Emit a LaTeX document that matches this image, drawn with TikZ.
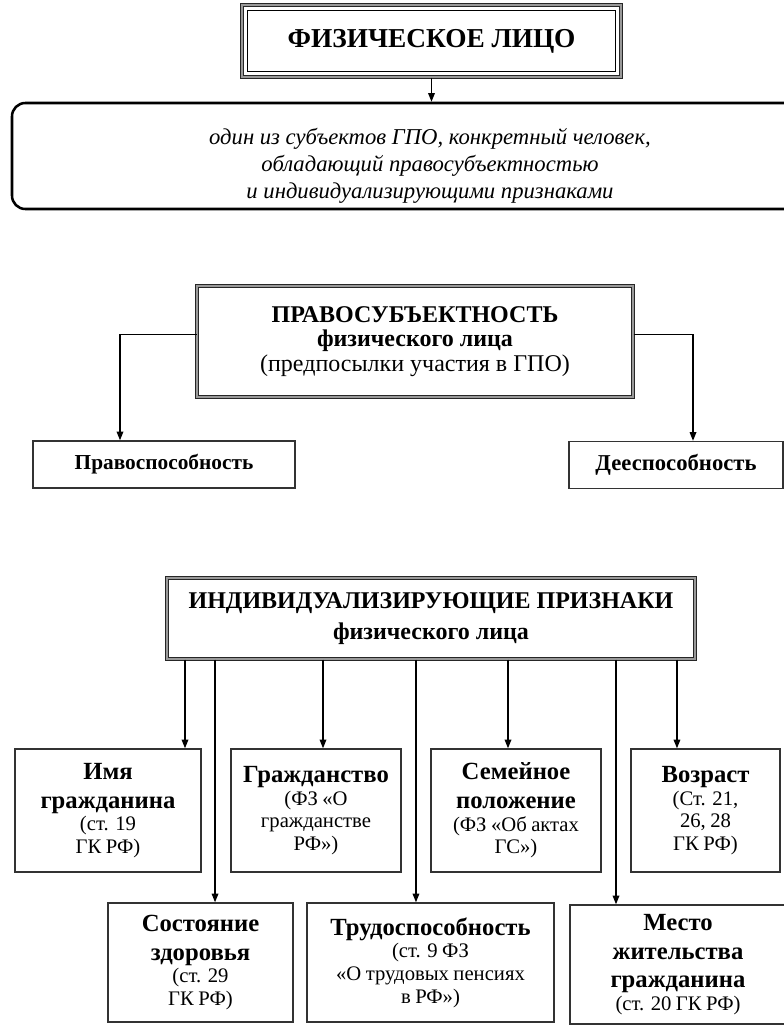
\documentclass[tikz,border=0pt]{standalone}
\usepackage{fontspec}
\setmainfont{Liberation Serif}
\usetikzlibrary{arrows.meta}
\newcommand\bln[1]{{\bfseries\fontsize{18.5}{21.5}\selectfont #1\par}}
\newcommand\rln[1]{{\fontsize{15.5}{17}\selectfont #1\par}}
\begin{document}
\begin{tikzpicture}[x=0.75pt,y=-0.75pt,
  arr/.style={draw=black, line width=0.9pt, -{Triangle[length=6.5pt,width=5pt]}},
  dbl/.style={draw=black!85, double=black!40, double distance=1.1pt, line width=0.75pt, inner sep=0pt, align=center},
  sbox/.style={draw=black!80, line width=1.1pt, inner sep=0pt, align=center},
  lbox/.style={sbox, minimum height=92.25pt},
  bbox/.style={sbox, minimum height=89.25pt}
]
\useasboundingbox (0,0) rectangle (784,1025);
\clip (0,0) rectangle (784,1025);

% top
\node[dbl, minimum width=284.25pt, minimum height=54pt, font=\fontsize{20.5}{24}\selectfont\bfseries] (fl) at (431.5,41) {ФИЗИЧЕСКОЕ ЛИЦО};
\draw[line width=1.1pt] ([shift={(6,6)}]fl.north west) rectangle ([shift={(-6,-6)}]fl.south east);

\node[draw=black, line width=1.9pt, rounded corners=10pt, minimum width=627pt, minimum height=79.5pt] (desc) at (430,156) {};
\node[font=\fontsize{17}{20.25}\selectfont\itshape, align=center, inner sep=0pt] (desct) at (430,166) {один из субъектов ГПО, конкретный человек,\\ обладающий правосубъектностью\\ и индивидуализирующими признаками};
\draw[arr] (fl.south) -- (fl.south |- desc.north);

% legal capacity
\node[dbl, minimum width=327pt, minimum height=83.25pt, font=\fontsize{18}{18.5}\selectfont] (pr) at (415,341.5) {\textbf{ПРАВОСУБЪЕКТНОСТЬ}\\\textbf{физического лица}\\(предпосылки участия в ГПО)};
\node[sbox, minimum width=196.5pt, minimum height=35.25pt, font=\fontsize{16}{19}\selectfont\bfseries] (pravo) at (164,464.5) {Правоспособность};
\node[sbox, minimum width=160.5pt, minimum height=35.25pt, font=\fontsize{17}{19}\selectfont\bfseries] (dees) at (676,465) {Дееспособность};
\draw[arr] ([yshift=5pt]pr.west) -| ([xshift=-33pt]pravo.north);
\draw[arr] ([yshift=5pt]pr.east) -| ([xshift=12.75pt]dees.north);

% individual features
\node[dbl, minimum width=396pt, minimum height=60.75pt, font=\fontsize{18}{23}\selectfont\bfseries] (ind) at (431,618.5) {ИНДИВИДУАЛИЗИРУЮЩИЕ ПРИЗНАКИ\\физического лица};

\node[lbox, minimum width=139.5pt, text width=130pt] (imya) at (108,810.5) {\bln{Имя}\bln{гражданина}\rln{(ст. 19}\rln{ГК РФ)}};
\node[lbox, minimum width=127.5pt, text width=120pt] (grazh) at (316,810.5) {\bln{Гражданство}\rln{(ФЗ «О}\rln{гражданстве}\rln{РФ»)}};
\node[lbox, minimum width=127.5pt, text width=120pt] (sem) at (516,810.5) {\bln{Семейное}\bln{положение}\rln{(ФЗ «Об актах}\rln{ГС»)}};
\node[lbox, minimum width=111.75pt, text width=104pt] (voz) at (705.5,810.5) {\bln{Возраст}\rln{(Ст. 21,}\rln{26, 28}\rln{ГК РФ)}};
\node[bbox, minimum width=138.75pt, text width=130pt] (zdor) at (200.5,962.5) {\bln{Состояние}\bln{здоровья}\rln{(ст. 29}\rln{ГК РФ)}};
\node[bbox, minimum width=185.25pt, text width=178pt] (trud) at (430.5,962.5) {\bln{Трудоспособность}\rln{(ст. 9 ФЗ}\rln{«О трудовых пенсиях}\rln{в РФ»)}};
\node[bbox, minimum width=162pt, text width=150pt] (mesto) at (678,964.5) {\bln{Место}\bln{жительства}\bln{гражданина}\rln{(ст. 20 ГК РФ)}};

\coordinate (c1) at ([xshift=57.75pt]imya.north);
\coordinate (c2) at ([xshift=10.9pt]zdor.north);
\coordinate (c3) at ([xshift=5.25pt]grazh.north);
\coordinate (c4) at ([xshift=-10.9pt]trud.north);
\coordinate (c5) at ([xshift=-6pt]sem.north);
\coordinate (c6) at ([xshift=-46.5pt]mesto.north);
\coordinate (c7) at ([xshift=-21.4pt]voz.north);
\foreach \c in {c1,c2,c3,c4,c5,c6,c7}
  \draw[arr] (ind.south -| \c) -- (\c);
\end{tikzpicture}
\end{document}
